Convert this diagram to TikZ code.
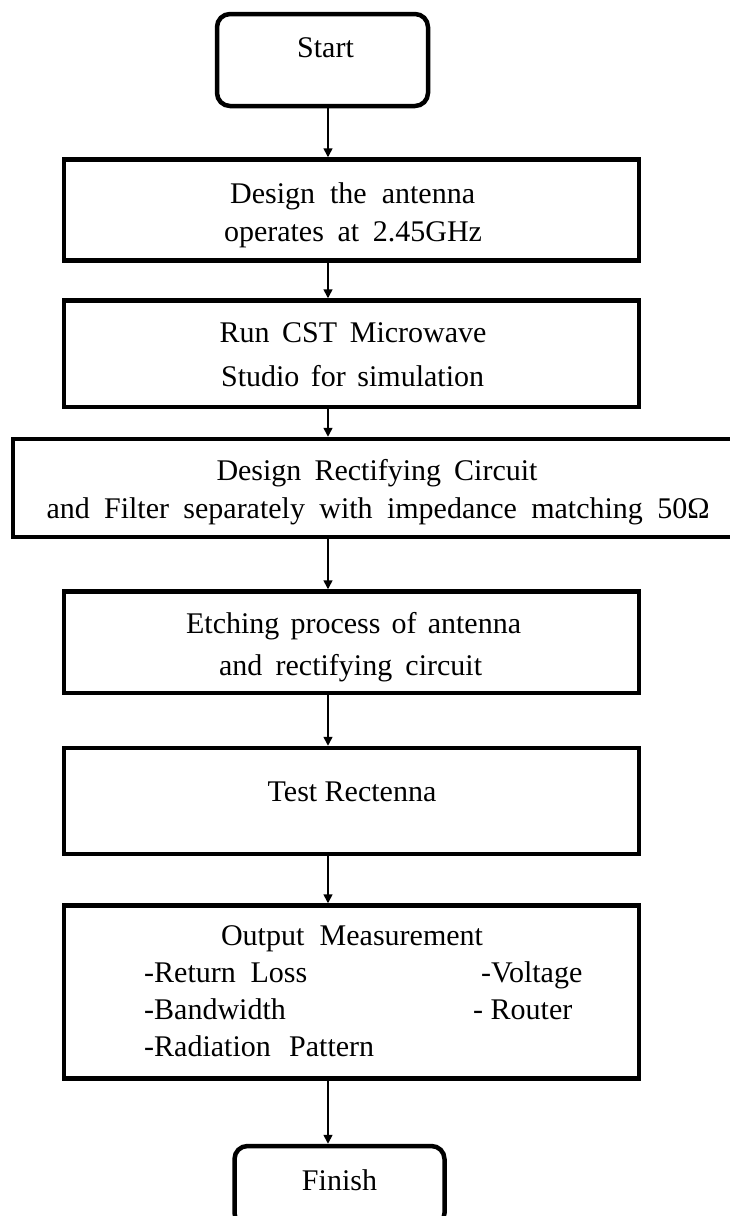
\documentclass[tikz,border=0pt]{standalone}
\usepackage{fontspec}
\setmainfont{Liberation Serif}
\usetikzlibrary{arrows.meta}
% set a line of text to a fixed width by stretching its interword spaces
\newcommand{\fitline}[2]{\makebox[#1][s]{#2}}
\begin{document}
\begin{tikzpicture}[x=1pt,y=-1pt,
  stepbox/.style={draw=black, line width=4.5pt, minimum width=575pt, inner sep=0pt},
  termbox/.style={stepbox, rounded corners=13pt, minimum width=210pt},
  txt/.style={anchor=base, inner sep=0pt, font=\fontsize{30pt}{36pt}\selectfont},
  ltxt/.style={txt, anchor=base west},
  flow/.style={line width=1.6pt, -{Triangle[length=9pt,width=9pt]}}]
\useasboundingbox (0,0) rectangle (730,1216);
\clip (0,0) rectangle (730,1216);
\fill[white] (0,0) rectangle (730,1216);

% boxes
\node[termbox, minimum width=211pt, minimum height=92pt] (start) at (322.5,60) {};
\node[stepbox, minimum height=101pt] (b1) at (351.5,210) {};
\node[stepbox, minimum height=106.5pt] (b2) at (351.5,353.75) {};
\node[stepbox, minimum width=729pt, minimum height=98pt] (b3) at (377.5,488) {};
\node[stepbox, minimum height=101.5pt] (b4) at (351.5,642.25) {};
\node[stepbox, minimum height=106pt] (b5) at (351.5,801) {};
\node[stepbox, minimum height=173pt] (b6) at (351.5,992) {};
\node[termbox, minimum height=80pt] (finish) at (339.5,1186) {};

% connectors
\coordinate (ax) at (328,0);
\draw[flow] (start.south -| ax) -- (b1.north -| ax);
\draw[flow] (b1.south -| ax) -- (b2.north -| ax);
\draw[flow] (b2.south -| ax) -- (b3.north -| ax);
\draw[flow] (b3.south -| ax) -- (b4.north -| ax);
\draw[flow] (b4.south -| ax) -- (b5.north -| ax);
\draw[flow] (b5.south -| ax) -- (b6.north -| ax);
\draw[flow] (b6.south -| ax) -- (finish.north -| ax);

% labels
\node[txt] (tstart) at (325.5,57) {Start};
\node[txt] (t1a) at (352.6,203) {\fitline{245pt}{Design the antenna}};
\node[txt] (t1b) at (353,241) {\fitline{258pt}{operates at 2.45GHz}};
\node[txt] (t2a) at (353,342) {\fitline{267pt}{Run CST Microwave}};
\node[txt] (t2b) at (352.6,386) {\fitline{263pt}{Studio for simulation}};
\node[txt] (t3a) at (377,480) {\fitline{321pt}{Design Rectifying Circuit}};
\node[txt] (t3b) at (378,518) {\fitline{663pt}{and Filter separately with impedance matching 50Ω}};
\node[txt] (t4a) at (353.6,633) {\fitline{335pt}{Etching process of antenna}};
\node[txt] (t4b) at (350.6,675) {\fitline{263pt}{and rectifying circuit}};
\node[txt] (t5) at (352,801) {Test Rectenna};
\node[txt] (t6) at (352,945) {\fitline{262pt}{Output Measurement}};
\node[ltxt] (t6a) at (144,982) {\fitline{163pt}{-Return Loss}};
\node[ltxt] (t6b) at (144,1019) {-Bandwidth};
\node[ltxt] (t6c) at (144,1056) {\fitline{230pt}{-Radiation Pattern}};
\node[ltxt] (t6d) at (481,982) {-Voltage};
\node[ltxt] (t6e) at (473,1019) {- Router};
\node[txt] (tfin) at (339.5,1190) {Finish};
\end{tikzpicture}
\end{document}
